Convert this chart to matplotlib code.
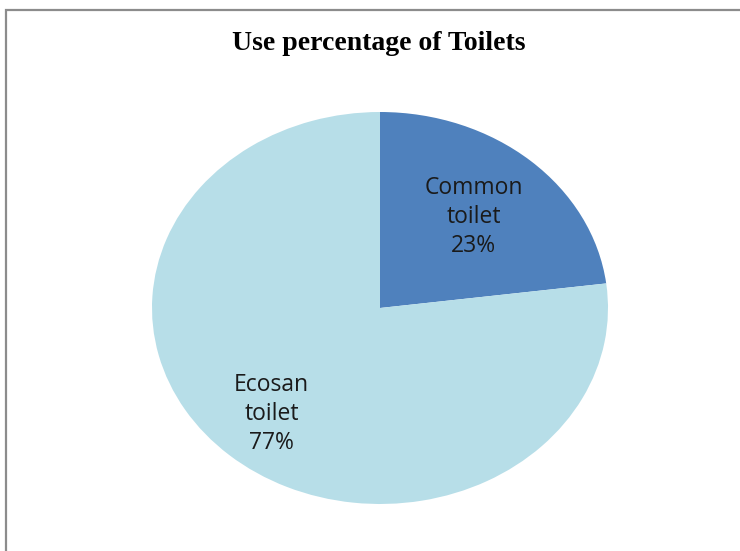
import numpy as np
import matplotlib.pyplot as plt
from matplotlib.patches import Rectangle

labels = ['Common\ntoilet', 'Ecosan\ntoilet']
shares = [23, 77]
colors = ['#4F81BD', '#B7DEE8']
label_radius = [0.62, 0.72]

W, H = 740, 551
fig = plt.figure(figsize=(W / 100, H / 100), dpi=100)

# outer chart frame (runs off the right and bottom edge)
fig.patches.append(Rectangle((6 / W, -0.1), 1.2, (H - 10) / H + 0.1,
                             transform=fig.transFigure, fill=False,
                             edgecolor='#8c8c8c', linewidth=1.6))

cx, cy, rx, ry = 380, 308, 228, 196
ax = fig.add_axes([(cx - rx) / W, (H - cy - ry) / H, 2 * rx / W, 2 * ry / H])
wedges, _ = ax.pie(shares, colors=colors, startangle=90, counterclock=False,
                   wedgeprops=dict(linewidth=0))
ax.set_aspect('auto')
ax.set_xlim(-1, 1)
ax.set_ylim(-1, 1)

for w, lab, s, r in zip(wedges, labels, shares, label_radius):
    mid = np.deg2rad((w.theta1 + w.theta2) / 2)
    ax.text(r * np.cos(mid), r * np.sin(mid), '%s\n%d%%' % (lab, s),
            ha='center', va='center', fontsize=16.5, family='Open Sans',
            color='#1a1a1a', linespacing=1.27)

fig.text(379 / W, 1 - 43 / H, 'Use percentage of Toilets', ha='center',
         va='center', fontsize=20, fontweight='bold', family='Liberation Serif')

fig.savefig('out.png', dpi=100)
